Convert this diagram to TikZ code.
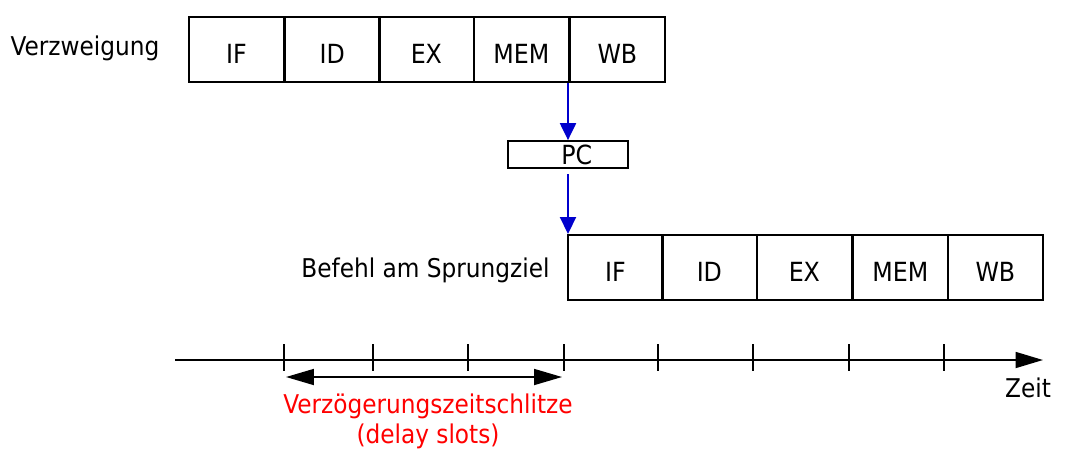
\documentclass[tikz,border=0pt]{standalone}
\usepackage{fontspec}
\setmainfont{DejaVu Sans Condensed}
\usetikzlibrary{arrows.meta}
\definecolor{pcblue}{RGB}{0,0,205}
\definecolor{slotred}{RGB}{255,0,0}
\tikzset{
  stage/.style={draw, line width=1pt, anchor=north west, inner sep=0pt,
    minimum width=1.9cm, minimum height=1.3cm, font=\fontsize{15}{17}\selectfont,
    text height=16pt, text depth=0pt},
  lbl/.style={font=\fontsize{14.7}{16}\selectfont, inner sep=0pt},
  sig/.style={pcblue, line width=1.2pt, -{Triangle[length=0.34cm,width=0.32cm]}},
  axis/.style={line width=1pt, -{Triangle[length=0.55cm,width=0.32cm]}},
  slots/.style={line width=1pt, {Triangle[length=0.56cm,width=0.32cm]}-{Triangle[length=0.56cm,width=0.32cm]}}
}
\begin{document}
\begin{tikzpicture}[x=0.02cm, y=-0.02cm]
      \useasboundingbox (0,0) rectangle (1065,451);

      % Verzweigung
      \node[lbl] (branch) at (85,48) {Verzweigung};
      \node[stage] (ifA) at (188,16) {IF};
      \node[stage] (idA) at (284,16) {ID};
      \node[stage] (exA) at (378,16) {EX};
      \node[stage] (memA) at (473,16) {MEM};
      \node[stage] (wbA) at (569,16) {WB};

      \node[draw, line width=1pt, minimum width=2.4cm, minimum height=0.54cm,
        inner sep=0pt, font=\fontsize{15}{17}\selectfont] (pc) at (568,154.5) {\hspace{10pt}PC};

      % Befehl am Sprungziel
      \node[lbl, anchor=east] (target) at (550,270) {Befehl am Sprungziel};
      \node[stage] (ifB) at (567,234) {IF};
      \node[stage] (idB) at (661,234) {ID};
      \node[stage] (exB) at (756,234) {EX};
      \node[stage] (memB) at (852,234) {MEM};
      \node[stage] (wbB) at (947,234) {WB};

      \draw[sig] (pc.north |- wbA.south) -- (pc.north);
      \draw[sig, shorten <=3pt] (pc.south) -- (pc.south |- ifB.north);

      % Zeitachse
      \coordinate (t0) at (175,360);
      \coordinate (t1) at (1043,360);
      \draw[axis] (t0) -- (t1);
      \foreach \x in {284,373,468,564,658,753,849,944}
        \draw[line width=1pt] (\x,344) -- (\x,371);
      \node[lbl] (zeit) at (1028,388) {Zeit};

      \coordinate (s0) at (286,377);
      \coordinate (s1) at (562,377);
      \draw[slots] (s0) -- (s1);
      \node[lbl, slotred, align=center] (delay) at (428,421) {Verzögerungszeitschlitze\\[1pt](delay slots)};
    \end{tikzpicture}
\end{document}
